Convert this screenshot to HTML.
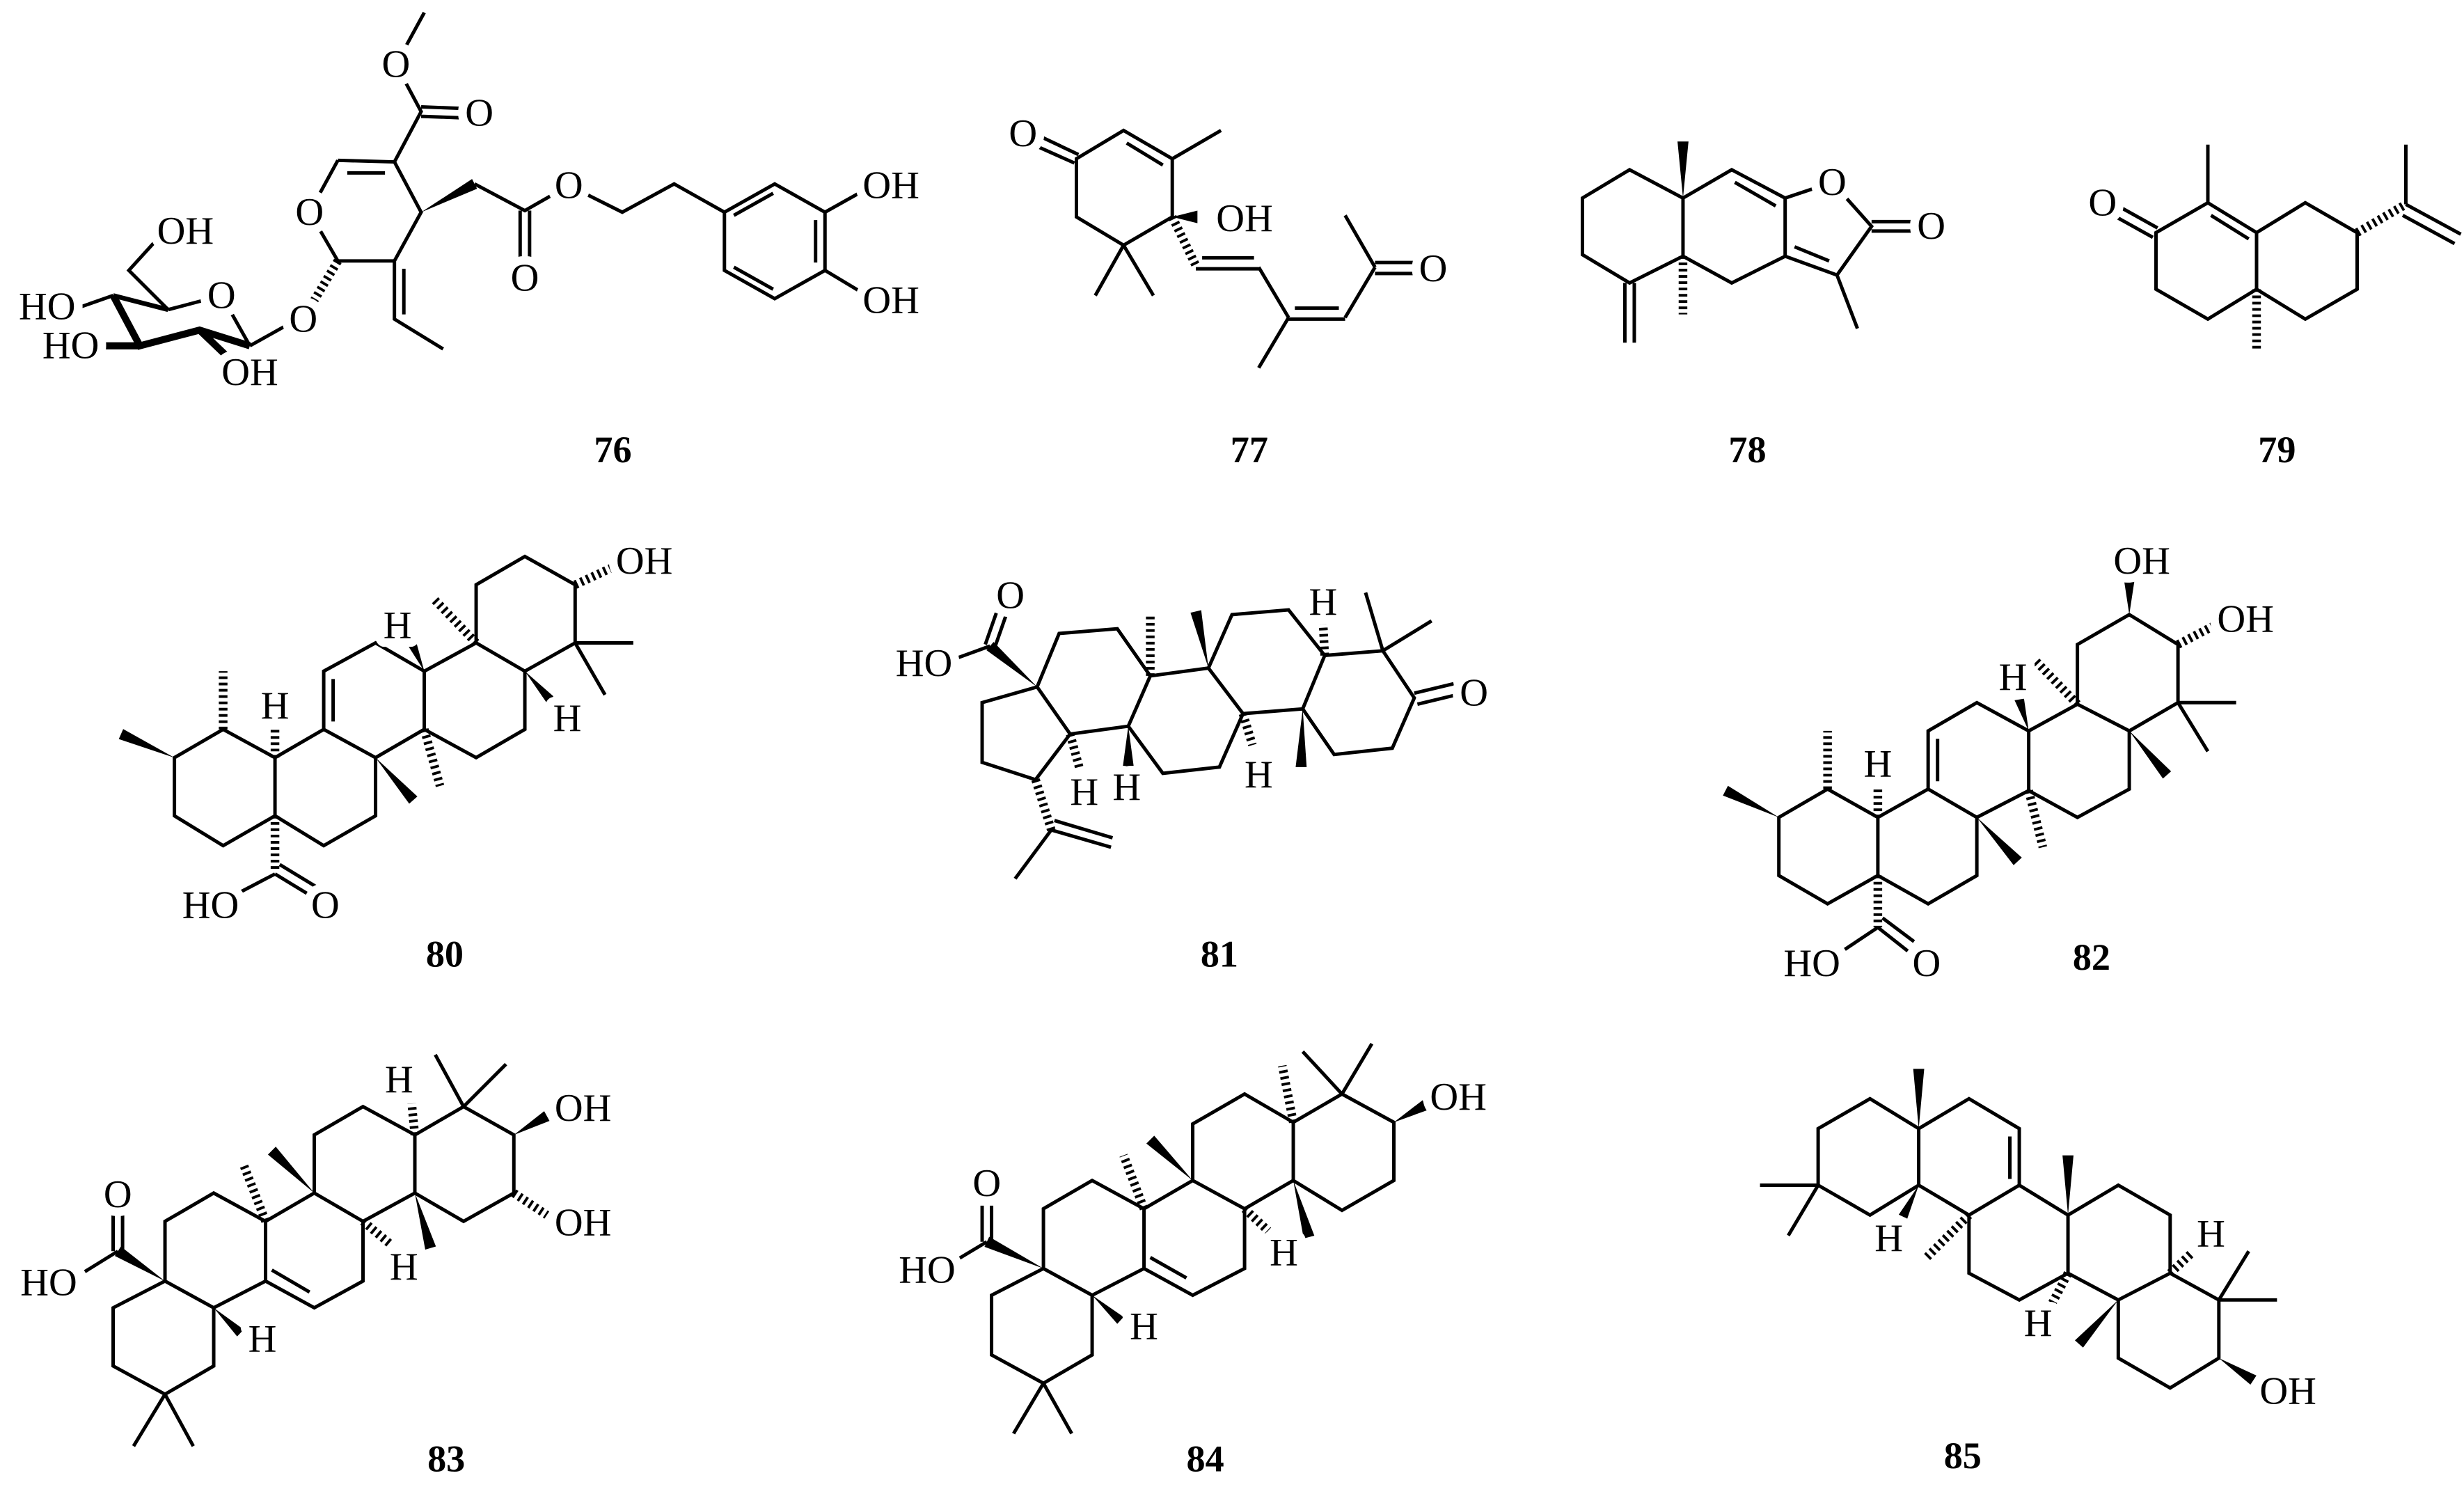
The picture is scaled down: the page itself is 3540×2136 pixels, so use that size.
<!DOCTYPE html>
<html><head><meta charset="utf-8"><style>
html,body{margin:0;padding:0;background:#fff;}
svg{display:block;}
.b{stroke:#000;stroke-width:2.2;fill:none;stroke-linejoin:miter;}
.bb{stroke:#000;stroke-width:4.5;fill:none;}
.h{stroke:#000;stroke-width:5.5;fill:none;stroke-dasharray:1.7 2.3;}
.w{fill:#000;stroke:none;}
text{font-family:"Liberation Serif",serif;font-size:25px;text-anchor:middle;dominant-baseline:central;fill:#000;stroke:#fff;stroke-width:11;stroke-linejoin:round;paint-order:stroke;}
text.n{font-weight:bold;font-size:24px;stroke:none;}
</style></head><body>
<svg width="3540" height="2136" viewBox="0 0 1568 946" preserveAspectRatio="none" xmlns="http://www.w3.org/2000/svg">
<!-- 76 -->
<path class="b" d="M270,8 L252,41 L268,71 L251,103 M268,68 L295,69 M268,74 L295,75 M251,103 L215,102 M221,110 L245,110 M215,102 L197,135 L215,166 L251,166 L268,135 L251,103 M302,117 L334,134 L362,118 L396,135 L429,117 L461,135 M331,134 L331,168 M337,134 L337,168 M461,135 L493,117 L525,135 L525,172 L493,190 L461,172 Z M467,137 L492,123 M519,140 L519,167 M467,170 L492,184 M525,135 L550,121 M525,172 L550,187 M251,166 L251,203 L282,222 M257,171 L257,200 M193,201 L159,220 M159,220 L141,188 L107,197 M107,197 L82,172 L102,150 M72,188 L52,195"/>
<path class="b" style="stroke-width:3" d="M107,197 L72,188"/>
<path class="bb" d="M72,188 L89,220 L127,210 L159,220 M89,220 L62,220 M127,210 L150,232"/>
<polygon class="w" points="268,135 303.6,120.1 300.4,113.9"/>
<path class="h" d="M215,166 L197,196"/>
<text x="252" y="41">O</text><text x="305" y="72">O</text><text x="197" y="135">O</text><text x="334" y="177">O</text><text x="362" y="118">O</text>
<text x="567" y="118">OH</text><text x="567" y="191">OH</text><text x="193" y="203">O</text><text x="141" y="188">O</text>
<text x="118" y="147">OH</text><text x="30" y="195">HO</text><text x="45" y="220">HO</text><text x="159" y="237">OH</text>
<text class="n" x="390" y="286">76</text>

<!-- 77 -->
<path class="b" d="M685,101 L715,83 L746,101 L746,138 L715,156 L685,138 Z M717,91 L740,105 M686.3,98.3 L656,84 M683.7,103.7 L653,90 M746,101 L777,83 M715,156 L697,188 M715,156 L734,188 M761,171 L801,171 M765,164 L798,164 M801,170 L820,202 M820,203 L856,203 M824,196 L852,196 M820,202 L801,234 M856,202 L875,170 M875,167 L903,167 M875,174 L903,174 M875,170 L856,137"/>
<polygon class="w" points="746,138 762,134 762,142"/>
<path class="h" d="M746,138 L761,169"/>
<text x="651" y="85">O</text><text x="792" y="139">OH</text><text x="912" y="171">O</text>
<text class="n" x="795" y="286">77</text>

<!-- 78 -->
<path class="b" d="M1037,108 L1007,126 L1007,162 L1037,180 L1071,163 L1071,126 Z M1071,126 L1102,108 L1136,126 L1136,163 L1102,180 L1071,163 M1104,116 L1130,131 M1136,126 L1166,116 L1191,144 L1169,175 L1136,163 M1142,157 L1164,166 M1169,175 L1182,209 M1191,141 L1222,141 M1191,147 L1222,147 M1034,180 L1034,218 M1040,180 L1040,218"/>
<polygon class="w" points="1071,126 1067.5,90 1074.5,90"/>
<path class="h" d="M1071,163 L1071,200"/>
<text x="1166" y="116">O</text><text x="1229" y="144">O</text>
<text class="n" x="1112" y="286">78</text>

<!-- 79 -->
<path class="b" d="M1372,148 L1405,129 L1436,148 L1436,184 L1405,203 L1372,184 Z M1407,137 L1431,152 M1436,148 L1467,129 L1500,148 L1500,184 L1467,203 L1436,184 M1373,145 L1346,130 M1370,151 L1343,136 M1405,129 L1405,92 M1531,130 L1531,92 M1531,130 L1566,149 M1529,137 L1562,155"/>
<path class="h" d="M1436,184 L1436,222 M1500,148 L1531,130"/>
<text x="1338" y="129">O</text>
<text class="n" x="1449" y="286">79</text>

<!-- 80 -->
<path class="b" d="M111,482 L142,464 L175,482 L175,519 L142,538 L111,519 Z M175,482 L206,464 L239,482 L239,519 L206,538 L175,519 M206,464 L206,427 L239,409 L270,427 L270,464 L239,482 M212,432 L212,459 M270,427 L303,409 L334,427 L334,464 L303,482 L270,464 M303,409 L303,372 L334,354 L366,372 L366,409 L334,427 M366,409 L403,409 M366,409 L385,442 M175,556 L152,568 M175,556 L198,570 M178,550 L201,564"/>
<polygon class="w" points="111,482 78.4,463.8 75.6,470.2"/>
<polygon class="w" points="239,482 260.4,511.3 265.6,506.7"/>
<polygon class="w" points="270,427 264.7,407.8 259.3,410.2"/>
<polygon class="w" points="334,427 347.8,447 352.2,443"/>
<path class="h" d="M142,464 L142,427 M175,482 L175,462 M175,519 L175,555 M270,464 L280,500 M303,409 L276,381 M366,372 L392,360"/>
<text x="175" y="449">H</text><text x="253" y="398">H</text><text x="361" y="457">H</text><text x="410" y="357">OH</text>
<text x="134" y="576">HO</text><text x="207" y="576">O</text>
<text class="n" x="283" y="607">80</text>

<!-- 81 -->
<path class="b" d="M660,437 L625,447 L625,485 L659,496 L681,467 Z M660,437 L674,403 L711,400 L732,430 L718,462 L681,467 M732,430 L769,425 L791,454 L776,488 L740,492 L718,462 M769,425 L784,391 L820,388 L843,417 L829,451 L791,454 M843,417 L880,414 L900,444 L886,476 L849,480 L829,451 M880,414 L869,377 M880,414 L911,395 M900,441 L925,435 M902,448 L927,442 M630,411 L608,419 M627,410 L634,390 M633,412 L640,392 M669,528 L646,559 M669,528 L707,539 M671,522 L708,533"/>
<polygon class="w" points="660,437 632.3,408.4 627.7,413.6"/>
<polygon class="w" points="718,462 714.5,488 721.5,488"/>
<polygon class="w" points="769,425 764.4,388.2 757.6,389.8"/>
<polygon class="w" points="829,451 824.5,488 831.5,488"/>
<path class="h" d="M681,467 L687,489 M732,430 L732,392 M791,454 L797,474 M843,417 L842,397 M659,496 L669,528"/>
<text x="690" y="504">H</text><text x="717" y="501">H</text><text x="801" y="493">H</text><text x="842" y="383">H</text>
<text x="938" y="441">O</text><text x="643" y="379">O</text><text x="588" y="422">HO</text>
<text class="n" x="776" y="607">81</text>

<!-- 82 -->
<path class="b" d="M1132,520 L1163,502 L1195,520 L1195,557 L1163,575 L1132,557 Z M1195,520 L1227,502 L1258,520 L1258,557 L1227,575 L1195,557 M1227,502 L1227,465 L1258,447 L1291,465 L1291,503 L1258,520 M1233,470 L1233,497 M1291,465 L1322,448 L1355,465 L1355,502 L1322,520 L1291,503 M1322,448 L1322,410 L1355,391 L1386,410 L1386,447 L1355,465 M1386,447 L1423,447 M1386,447 L1405,478 M1195,590 L1174,604 M1195,590 L1214,605 M1198,584 L1218,599"/>
<polygon class="w" points="1132,520 1099.6,499.9 1096.4,506.1"/>
<polygon class="w" points="1258,520 1281.4,550.4 1286.6,545.6"/>
<polygon class="w" points="1291,465 1282,445.5 1288,444.5"/>
<polygon class="w" points="1355,465 1376.4,495.3 1381.6,490.7"/>
<polygon class="w" points="1355,391 1351.5,368 1358.5,368"/>
<path class="h" d="M1163,502 L1163,465 M1195,520 L1195,500 M1195,557 L1195,590 M1291,503 L1300,539 M1322,448 L1295,420 M1386,410 L1409,398"/>
<text x="1195" y="486">H</text><text x="1281" y="431">H</text><text x="1363" y="357">OH</text><text x="1429" y="394">OH</text>
<text x="1153" y="613">HO</text><text x="1226" y="613">O</text>
<text class="n" x="1331" y="609">82</text>

<!-- 83 -->
<path class="b" d="M105,815 L136,832 L136,869 L105,887 L72,869 L72,832 Z M105,887 L85,920 M105,887 L123,920 M105,815 L105,777 L136,759 L169,777 L169,815 L136,832 M169,777 L200,759 L231,777 L231,815 L200,832 L169,815 M173,808 L197,822 M200,759 L200,722 L231,704 L264,722 L264,759 L231,777 M264,722 L295,704 L327,722 L327,759 L295,777 L264,759 M295,704 L277,671 M295,704 L322,677 M75,796 L54,809 M72,796 L72,772 M78,796 L78,772"/>
<polygon class="w" points="105,815 76.9,793 73.1,799"/>
<polygon class="w" points="136,832 150.9,850.2 155.1,845.8"/>
<polygon class="w" points="200,759 175.5,729.5 170.5,734.5"/>
<polygon class="w" points="264,759 277.4,793 270.6,795"/>
<polygon class="w" points="327,722 349.7,713.1 346.3,706.9"/>
<path class="h" d="M169,777 L155,741 M231,777 L249,792 M264,722 L262,702 M327,759 L348,773"/>
<text x="75" y="760">O</text><text x="31" y="816">HO</text>
<text x="167" y="852">H</text><text x="257" y="806">H</text><text x="254" y="687">H</text><text x="371" y="705">OH</text><text x="371" y="778">OH</text>
<text class="n" x="284" y="928">83</text>

<!-- 84 -->
<path class="b" d="M664,807 L695,824 L695,862 L664,880 L631,862 L631,824 Z M664,880 L645,912 M664,880 L682,912 M664,807 L664,769 L695,751 L728,769 L728,807 L695,824 M728,769 L759,751 L792,769 L792,807 L759,824 L728,807 M732,800 L755,813 M759,751 L759,715 L792,696 L823,714 L823,751 L792,769 M823,714 L854,696 L887,714 L887,751 L854,770 L823,751 M854,696 L829,669 M854,696 L873,664 M628,790 L608,802 M625,790 L625,767 M631,790 L631,767"/>
<polygon class="w" points="664,807 629.5,786.8 626.5,793.2"/>
<polygon class="w" points="695,824 711,842.2 715,837.8"/>
<polygon class="w" points="759,751 734.5,722.5 729.5,727.5"/>
<polygon class="w" points="823,751 836.4,786.1 829.6,787.9"/>
<polygon class="w" points="887,714 908.7,706.1 905.3,699.9"/>
<path class="h" d="M728,769 L715,735 M792,769 L807,783 M823,714 L816,678"/>
<text x="628" y="753">O</text><text x="590" y="808">HO</text>
<text x="728" y="844">H</text><text x="817" y="797">H</text><text x="928" y="698">OH</text>
<text class="n" x="767" y="928">84</text>

<!-- 85 -->
<path class="b" d="M1157,754 L1157,718 L1190,699 L1221,718 L1221,754 L1190,773 Z M1157,754 L1120,754 M1157,754 L1138,786 M1221,718 L1253,699 L1285,718 L1285,754 L1253,773 L1221,754 M1279,723 L1279,750 M1285,754 L1316,773 L1316,810 L1285,827 L1253,810 L1253,773 M1316,773 L1348,754 L1381,773 L1381,810 L1348,827 L1316,810 M1381,810 L1412,827 L1412,864 L1381,883 L1348,864 L1348,827 M1412,827 L1449,827 M1412,827 L1431,796"/>
<polygon class="w" points="1221,718 1217.5,680 1224.5,680"/>
<polygon class="w" points="1221,754 1213.7,775.3 1208.3,772.7"/>
<polygon class="w" points="1316,773 1312.5,735 1319.5,735"/>
<polygon class="w" points="1348,827 1325.6,857.3 1320.4,852.7"/>
<polygon class="w" points="1412,864 1432.1,880.9 1435.9,875.1"/>
<path class="h" d="M1253,773 L1226,800 M1316,810 L1306,829 M1381,810 L1397,795"/>
<text x="1202" y="788">H</text><text x="1297" y="842">H</text><text x="1407" y="785">H</text><text x="1456" y="885">OH</text>
<text class="n" x="1249" y="926">85</text>
</svg>
</body></html>
